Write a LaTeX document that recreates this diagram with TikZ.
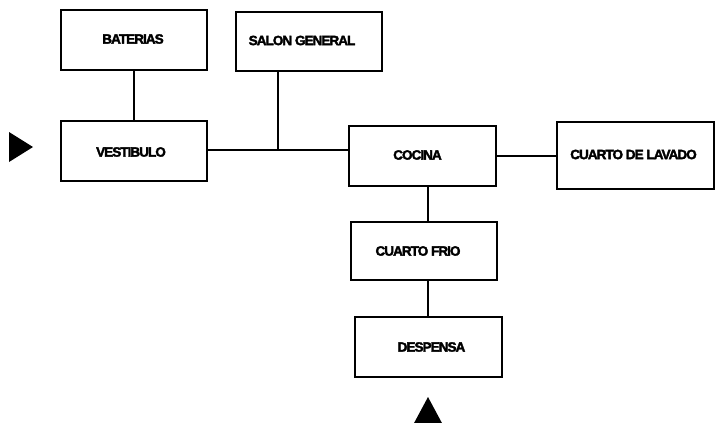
\documentclass[tikz,border=0pt]{standalone}
\usepackage{fontspec}
\setmainfont{Liberation Sans}[LetterSpace=-7,BoldFeatures={FakeBold=2.5}]
\begin{document}
\begin{tikzpicture}[x=1pt,y=-1pt,
  box/.style={draw,line width=1.3pt,rectangle,inner sep=0pt,minimum width=146pt,minimum height=60pt},
  lbl/.style={font=\fontsize{13.5}{16}\selectfont\bfseries,inner sep=0pt},
  conn/.style={line width=1.3pt}]
\useasboundingbox (0,0) rectangle (715,423);
\node[box,label={[lbl,xshift=-1pt,yshift=1pt]center:BATERIAS}] (bat) at (134,40) {};
\node[box,minimum height=59pt,label={[lbl,xshift=-7pt,yshift=1pt]center:SALON GENERAL}] (salon) at (309,41.5) {};
\node[box,label={[lbl,xshift=-3pt,yshift=-1pt]center:VESTIBULO}] (vest) at (134,151) {};
\node[box,minimum width=147pt,label={[lbl,xshift=-5pt,yshift=1pt]center:COCINA}] (cocina) at (422.5,156) {};
\node[box,minimum width=157pt,minimum height=67pt,label={[lbl,xshift=-2pt,yshift=1pt]center:CUARTO DE LAVADO}] (lavado) at (635.5,155.5) {};
\node[box,minimum height=58pt,label={[lbl,xshift=-6pt]center:CUARTO FRIO}] (frio) at (424,251) {};
\node[box,minimum width=147pt,label={[lbl,xshift=3pt]center:DESPENSA}] (despensa) at (428.5,347) {};
% connectors
\draw[conn] (bat.south) -- (vest.north);
\coordinate (vj) at ([yshift=1pt]vest.east);
\draw[conn] (vj) -- (vj -| cocina.west);
\coordinate (st) at ([xshift=-31pt]salon.south);
\draw[conn] (st) -- (st |- vj);
\draw[conn] (cocina.east) -- (cocina.east -| lavado.west);
\coordinate (cj) at ([xshift=5.5pt]cocina.south);
\draw[conn] (cj) -- (cj |- frio.north);
\coordinate (fj) at ([xshift=4pt]frio.south);
\draw[conn] (fj) -- (fj |- despensa.north);
% entrance triangles
\fill (9,132) -- (9,162) -- (33,147) -- cycle;
\fill (428,397) -- (443,425) -- (413,425) -- cycle;
\end{tikzpicture}
\end{document}
